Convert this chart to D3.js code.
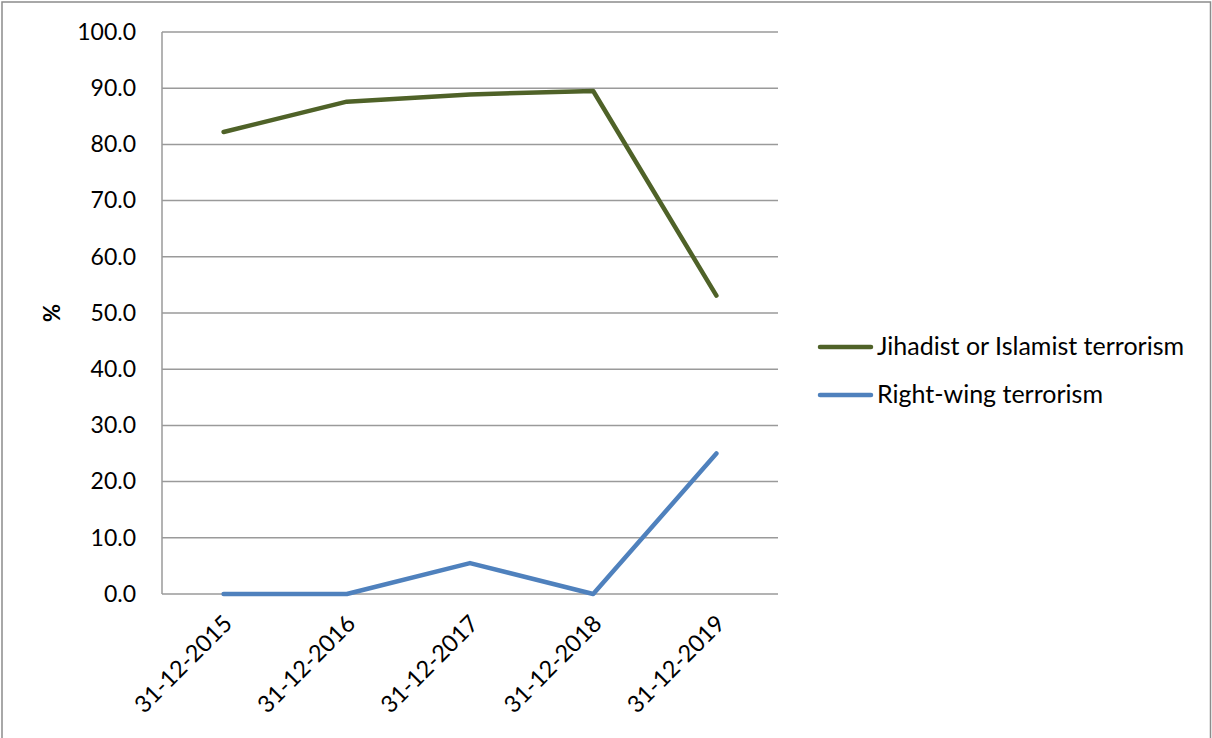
<!DOCTYPE html>
<html><head><meta charset="utf-8">
<script src="https://cdn.jsdelivr.net/npm/d3@7"></script>
<style>body{margin:0;background:#fff}svg{display:block}text{font-family:Lato,"Open Sans",sans-serif;fill:#000}</style>
</head><body>
<svg id="c" width="1212" height="738"></svg>
<script>
const categories = ["31-12-2015","31-12-2016","31-12-2017","31-12-2018","31-12-2019"];
const jihadist = [82.2, 87.6, 88.9, 89.5, 53.1];
const rightWing = [0.0, 0.0, 5.5, 0.0, 25.0];
const yTicks = [0,10,20,30,40,50,60,70,80,90,100];
const seriesNames = ["Jihadist or Islamist terrorism","Right-wing terrorism"];
const seriesColors = ["#4F6228","#4F81BD"];

const svg = d3.select("#c");
svg.append("rect").attr("x",2).attr("y",2).attr("width",1208.5).attr("height",800)
  .attr("fill","none").attr("stroke","#8c8c8c").attr("stroke-width",1.5);

const L=162,R=778,T=32,B=594;
const x = d3.scaleBand().domain(categories).range([L,R]);
const y = d3.scaleLinear().domain([0,100]).range([B,T]);

// gridlines
svg.append("g").selectAll("line").data(yTicks).join("line")
  .attr("x1",L).attr("x2",R).attr("y1",d=>y(d)).attr("y2",d=>y(d))
  .attr("stroke","#9a9a9a").attr("stroke-width",1.5);
svg.append("line").attr("x1",L).attr("x2",L).attr("y1",T).attr("y2",B)
  .attr("stroke","#9a9a9a").attr("stroke-width",1.5);

// y axis labels
const yAxis = d3.axisLeft(y).tickValues(yTicks).tickFormat(d3.format(".1f")).tickSize(0).tickPadding(26);
const gy = svg.append("g").attr("transform",`translate(${L},0)`).call(yAxis);
gy.select(".domain").remove();
gy.selectAll("text").style("font-size","23px").style("font-family","Lato, 'Open Sans', sans-serif").attr("fill","#000");

// x axis labels
const xAxis = d3.axisBottom(x).tickSize(0).tickPadding(0);
const gx = svg.append("g").attr("transform",`translate(0,${B})`).call(xAxis);
gx.select(".domain").remove();
gx.selectAll("text").style("font-size","23.5px").style("font-family","Lato, 'Open Sans', sans-serif").attr("fill","#000")
  .attr("text-anchor","end").attr("dy","0").attr("y",0)
  .attr("transform","translate(10,31) rotate(-45)");

// y title
svg.append("text").attr("transform","translate(60,313) rotate(-90)").attr("text-anchor","middle")
  .style("font-size","22px").style("font-weight","bold").text("%");

const line = d3.line().x((d,i)=>x(categories[i])+x.bandwidth()/2).y(d=>y(d));
[jihadist,rightWing].forEach((s,i)=>{
  svg.append("path").datum(s).attr("d",line).attr("fill","none")
    .attr("stroke",seriesColors[i]).attr("stroke-width",4.5)
    .attr("stroke-linejoin","round").attr("stroke-linecap","round");
});

// legend
const lg = svg.append("g");
seriesNames.forEach((n,i)=>{
  const yy = 347 + i*48;
  lg.append("line").attr("x1",820).attr("x2",871).attr("y1",yy).attr("y2",yy)
    .attr("stroke",seriesColors[i]).attr("stroke-width",4.5).attr("stroke-linecap","round");
  lg.append("text").attr("x",877).attr("y",yy+8).style("font-size","25px").text(n);
});
</script>
</body></html>
